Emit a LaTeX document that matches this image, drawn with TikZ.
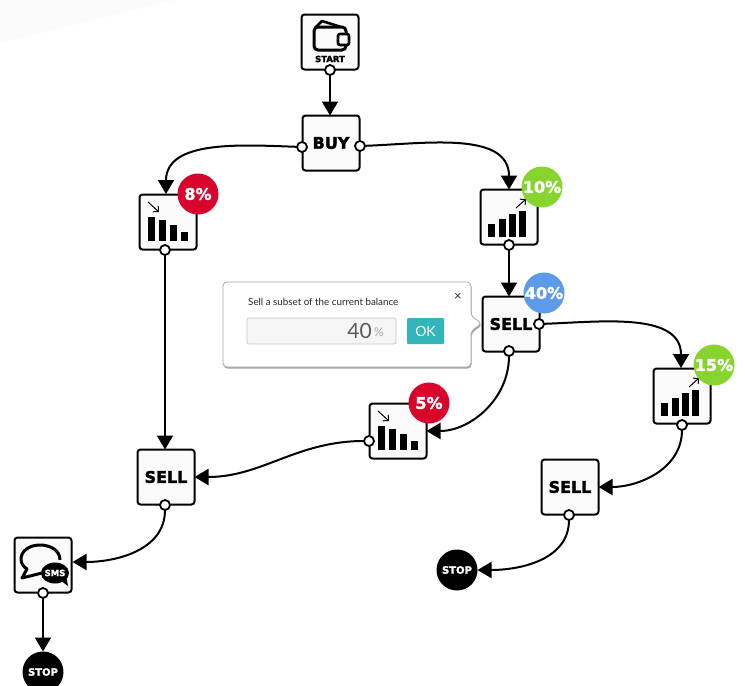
\documentclass[tikz,border=0pt]{standalone}
\usepackage{fontspec}
\usepackage{xcolor}
\setmainfont{DejaVu Sans}[BoldFeatures={FakeBold=2.2}]
\newfontfamily\uifont{Lato}
\usetikzlibrary{arrows.meta,shadows}
\definecolor{badgered}{HTML}{D9042B}
\definecolor{badgegreen}{HTML}{88D42E}
\definecolor{badgeblue}{HTML}{5B9BEA}
\definecolor{okteal}{HTML}{33B5B9}
\tikzset{
    boxnode/.style={draw=black,line width=2pt,fill=black!2,rounded corners=3pt,minimum width=57pt,minimum height=55pt,inner sep=0pt,outer sep=0pt,font=\bfseries\fontsize{16}{16}\selectfont},
    portnode/.style={draw=black,line width=1.8pt,fill=white,circle,minimum size=10pt,inner sep=0pt,outer sep=0pt},
    badgenode/.style={circle,minimum size=41pt,inner sep=0pt,text=white,font=\bfseries\fontsize{16}{16}\selectfont},
    stopnode/.style={circle,fill=black,minimum size=41pt,inner sep=0pt,outer sep=0pt,text=white,font=\bfseries\fontsize{10}{10}\selectfont},
    flow/.style={line width=2pt,-{Triangle[length=14pt,width=16pt]}},
    pics/chartdown/.style={code={
        \fill (-20,-5) rectangle (-13,19);
        \fill (-9,-2) rectangle (-2,19);
        \fill (2,3) rectangle (9,19);
        \fill (13,10) rectangle (20,19);
        \draw[line width=1pt,-{Straight Barb[length=4pt,width=8pt]}] (-20,-20) -- (-9,-10);
    }},
    pics/chartup/.style={code={
        \fill (-21,7) rectangle (-14,20);
        \fill (-10,2) rectangle (-3,20);
        \fill (0,-3) rectangle (7,20);
        \fill (10,-6) rectangle (17,20);
        \draw[line width=1pt,-{Straight Barb[length=4pt,width=8pt]}] (7,-9) -- (17,-18);
    }},
}
\begin{document}
\begin{tikzpicture}[x=1pt,y=-1pt]
    \path[use as bounding box,clip] (0,0) rectangle (745,686);
    \fill[white] (0,0) rectangle (745,686);
    \fill[black!2] (0,0) -- (173,0) -- (0,43) -- cycle;

    \node[boxnode] (start) at (330,42) {};
    \node[boxnode] (buy) at (331,143) {BUY};
    \node[boxnode] (chartA) at (168,222) {};
    \node[boxnode] (chartB) at (509,217) {};
    \node[boxnode] (sellB) at (511,324) {SELL};
    \node[boxnode] (chartC) at (682,396) {};
    \node[boxnode] (chartD) at (398,431) {};
    \node[boxnode] (sellA) at (166,477) {SELL};
    \node[boxnode] (sellC) at (570,487) {SELL};
    \node[boxnode] (sms) at (43,565) {};
    \node[stopnode] (stopA) at (43,672) {STOP};
    \node[stopnode] (stopB) at (457,570) {STOP};

    \pic at (168,222) {chartdown};
    \pic at (398,431) {chartdown};
    \pic at (509,217) {chartup};
    \pic at (682,396) {chartup};

    \draw[line width=3pt,rounded corners=4pt] (314,27) rectangle (346,50);
    \draw[line width=2.6pt,line join=round] (315,28) -- (322,21) -- (341,27);
    \draw[line width=2.6pt,fill=white,rounded corners=2pt] (338,34) rectangle (349,45);
    \node[font=\bfseries\fontsize{8.5}{8.5}\selectfont,inner sep=0pt] (startlabel) at (330,59) {START};

    \draw[line width=3pt,line join=round] (60,560) .. controls (60,550) and (50,545) .. (40,545) .. controls (28,545) and (21,552) .. (21,559) .. controls (21,564) and (24,567) .. (27,569) -- (22,578) -- (42,573);
    \fill (55,573) ellipse [x radius=14,y radius=10.5];
    \fill (60,580) -- (68,586) -- (66,575) -- cycle;
    \node[text=white,font=\bfseries\fontsize{8.5}{8.5}\selectfont,inner sep=0pt] (smslabel) at (55,573) {SMS};

    \node[portnode] (startout) at (330,70) {};
    \node[portnode] (buyleft) at (302,147) {};
    \node[portnode] (buyright) at (360,146) {};
    \node[portnode] (chartAout) at (165,250) {};
    \node[portnode] (chartBout) at (509,245) {};
    \node[portnode] (sellBright) at (539,324) {};
    \node[portnode] (sellBout) at (509,351) {};
    \node[portnode] (chartCout) at (682,425) {};
    \node[portnode] (chartDout) at (369,441) {};
    \node[portnode] (sellAout) at (165,505) {};
    \node[portnode] (sellCout) at (569,515) {};
    \node[portnode] (smsout) at (43,593) {};

    \coordinate (chartAin) at (166,194);
    \coordinate (chartCin) at (681,368);
    \coordinate (smsin) at (72.5,562);

    \draw[flow] (startout) -- (buy.north -| startout);
    \draw[flow] (buyleft) to[out=178,in=90] (chartAin);
    \draw[flow] (buyright) to[out=2,in=90] (chartB.north);
    \draw[flow] (chartBout) -- (sellB.north -| chartBout);
    \draw[flow] (sellBright) to[out=2,in=90] (chartCin);
    \draw[flow] (sellBout) to[out=-90,in=0] (chartD.east);
    \draw[flow] (chartAout) -- (sellA.north -| chartAout);
    \draw[flow] (chartDout) to[out=180,in=0] (sellA.east);
    \draw[flow] (sellAout) to[out=-90,in=0] (smsin);
    \draw[flow] (chartCout) to[out=-90,in=0] (sellC.east);
    \draw[flow] (sellCout) to[out=-90,in=0] (stopB.east);
    \draw[flow] (smsout) -- (stopA.north);

    \node[badgenode,fill=badgered] (badgeA) at (198,194) {8\%};
    \node[badgenode,fill=badgegreen] (badgeB) at (542,187) {10\%};
    \node[badgenode,fill=badgeblue] (badgeC) at (544,293) {40\%};
    \node[badgenode,fill=badgegreen] (badgeD) at (714,365) {15\%};
    \node[badgenode,fill=badgered] (badgeE) at (429,403) {5\%};

    \draw[draw=black!35,fill=white,line width=.8pt,rounded corners=4pt,drop shadow={shadow xshift=.6pt,shadow yshift=-1.6pt,fill=black!60,opacity=.6}] (223,282) -- (471,282) -- (471,316) -- (482,323.5) -- (471,331) -- (471,367) -- (223,367) -- cycle;
    \node[font=\uifont\fontsize{9.8}{9.8}\selectfont,anchor=west,inner sep=0pt,text=black!85] (popuptext) at (248,301.5) {Sell a subset of the current balance};
    \node[font=\uifont\fontsize{13}{13}\selectfont,inner sep=0pt,text=black!85] (popupclose) at (458,297) {×};
    \node[draw=black!22,fill=black!4,line width=.7pt,rounded corners=2pt,minimum width=149pt,minimum height=26pt,inner sep=0pt] (popupfield) at (321.5,331) {};
    \node[font=\uifont\fontsize{21}{21}\selectfont,anchor=east,inner sep=0pt,text=black!65] (popupvalue) at (372,331) {40};
    \node[font=\uifont\fontsize{12}{12}\selectfont,anchor=west,inner sep=0pt,text=black!35] (popupunit) at (374,332) {\%};
    \node[fill=okteal,rounded corners=1pt,minimum width=37pt,minimum height=26pt,inner sep=0pt,text=white,font=\uifont\fontsize{14}{14}\selectfont] (popupok) at (425.5,331) {OK};
\end{tikzpicture}
\end{document}
